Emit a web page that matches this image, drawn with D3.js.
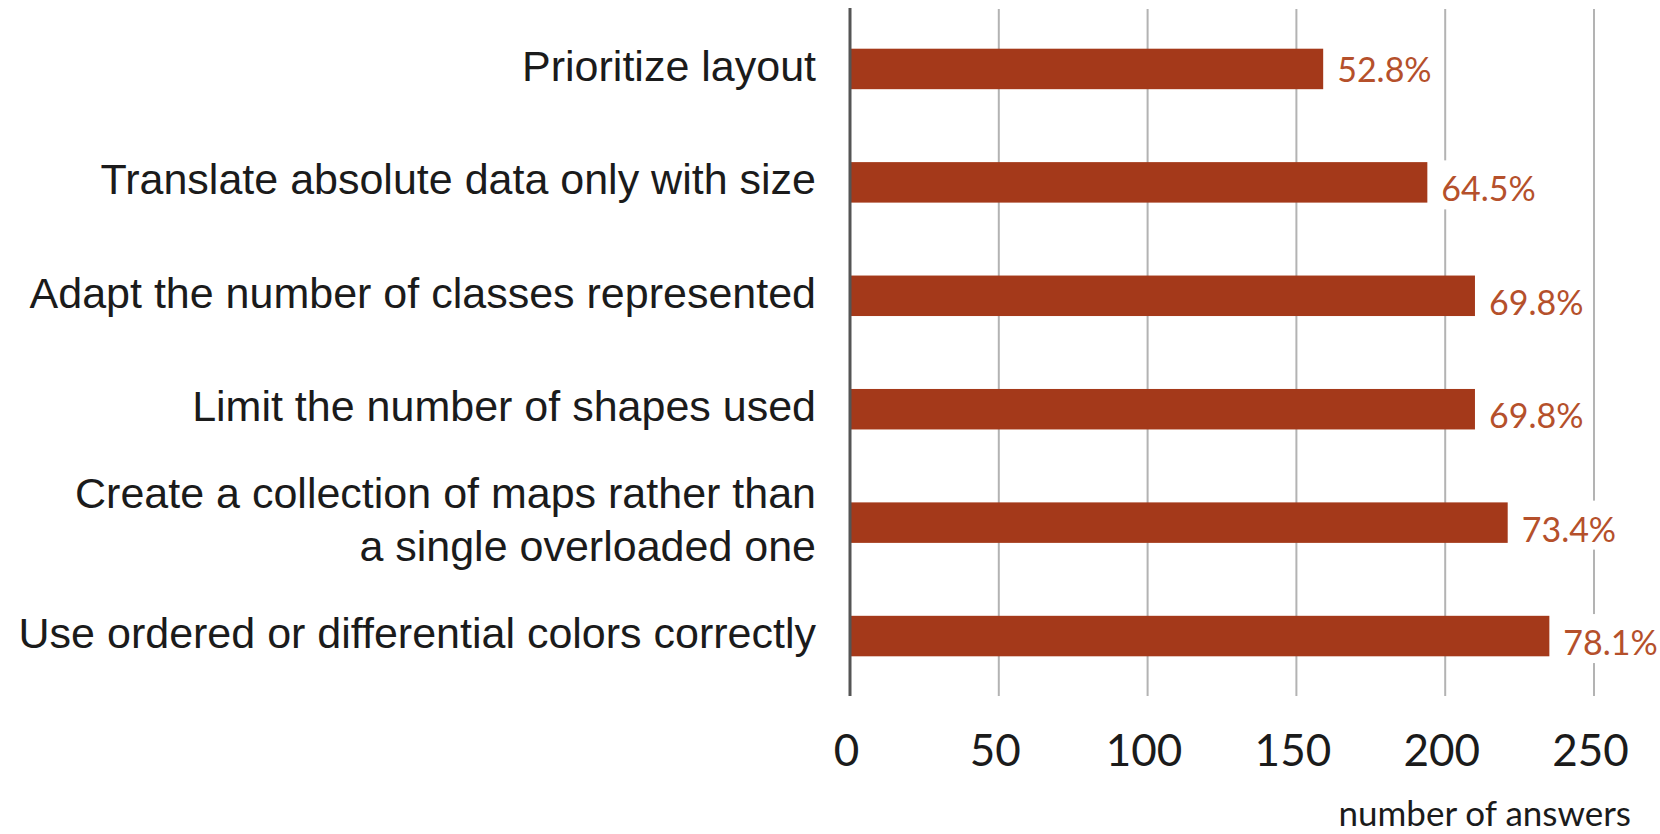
<!DOCTYPE html>
<html>
<head>
<meta charset="utf-8">
<script src="https://cdn.jsdelivr.net/npm/d3@7"></script>
<style>
  html, body { margin: 0; padding: 0; background: #fff; }
  svg { display: block; }
</style>
</head>
<body>
<svg id="chart" width="1660" height="834"></svg>
<script>
const categories = [
  "Prioritize layout",
  "Translate absolute data only with size",
  "Adapt the number of classes represented",
  "Limit the number of shapes used",
  "Create a collection of maps rather than\na single overloaded one",
  "Use ordered or differential colors correctly"
];
const answers = [159, 194, 210, 210, 221, 235];
const percentLabels = ["52.8%", "64.5%", "69.8%", "69.8%", "73.4%", "78.1%"];
const xTicks = [0, 50, 100, 150, 200, 250];
const xAxisTitle = "number of answers";

const rows = categories.map((c, i) => ({ cat: c, value: answers[i], pct: percentLabels[i] }));

const svg = d3.select("#chart");
const x = d3.scaleLinear().domain([0, 250]).range([850, 1594]);
const y = d3.scaleBand().domain(categories).range([9, 696]).paddingInner(0.643).paddingOuter(0.35);
const bw = y.bandwidth();

const barColor = "#a4391a";
const labelColor = "#b5502b";
const rightFont = "Lato, 'Open Sans', sans-serif";

// gridlines
svg.append("g").selectAll("line")
  .data(xTicks.filter(t => t !== 0))
  .join("line")
  .attr("x1", d => x(d)).attr("x2", d => x(d))
  .attr("y1", 9).attr("y2", 696)
  .attr("stroke", "#b3b3b3").attr("stroke-width", 2);

// bars
svg.append("g").selectAll("rect")
  .data(rows)
  .join("rect")
  .attr("x", x(0))
  .attr("y", d => y(d.cat))
  .attr("width", d => x(d.value) - x(0))
  .attr("height", bw)
  .attr("fill", barColor);

// value labels with white backing
const lg = svg.append("g").selectAll("g")
  .data(rows)
  .join("g");
lg.each(function(d, i) {
  const g = d3.select(this);
  const bx = x(d.value) + 14;
  const by = y(d.cat) + bw / 2 + (i === 0 ? 13 : 19);
  const bg = g.append("rect").attr("fill", "#fff");
  const t = g.append("text")
    .attr("x", bx).attr("y", by)
    .attr("font-family", rightFont)
    .attr("font-size", 34)
    .attr("fill", labelColor)
    .text(d.pct);
  const bb = t.node().getBBox();
  bg.attr("x", bb.x - 2).attr("y", by - 41).attr("width", bb.width + 4).attr("height", 49);
});

// y axis line
svg.append("line")
  .attr("x1", x(0)).attr("x2", x(0))
  .attr("y1", 8).attr("y2", 696)
  .attr("stroke", "#555").attr("stroke-width", 3);

// category labels
const cl = svg.append("g").selectAll("text")
  .data(rows)
  .join("text")
  .attr("text-anchor", "end")
  .attr("font-family", "'Liberation Sans', Arial, sans-serif")
  .attr("font-size", 43)
  .attr("fill", "#1b1b1b");
cl.each(function(d) {
  const lines = d.cat.split("\n");
  const c = y(d.cat) + bw / 2 + 12;
  d3.select(this).selectAll("tspan")
    .data(lines)
    .join("tspan")
    .attr("x", 816)
    .attr("y", (l, i) => c + (i - (lines.length - 1) / 2) * 53)
    .text(l => l);
});

// x axis tick labels
const xAxis = d3.axisBottom(x).tickValues(xTicks).tickSize(0).tickPadding(0);
const ax = svg.append("g").attr("transform", "translate(-4,735)").call(xAxis);
ax.select(".domain").remove();
ax.selectAll("text")
  .attr("font-family", rightFont)
  .attr("font-size", 44)
  .attr("fill", "#1b1b1b");

// axis title
svg.append("text")
  .attr("x", 1631).attr("y", 826)
  .attr("text-anchor", "end")
  .attr("font-family", rightFont)
  .attr("font-size", 35)
  .attr("fill", "#1b1b1b")
  .text(xAxisTitle);
</script>
</body>
</html>
